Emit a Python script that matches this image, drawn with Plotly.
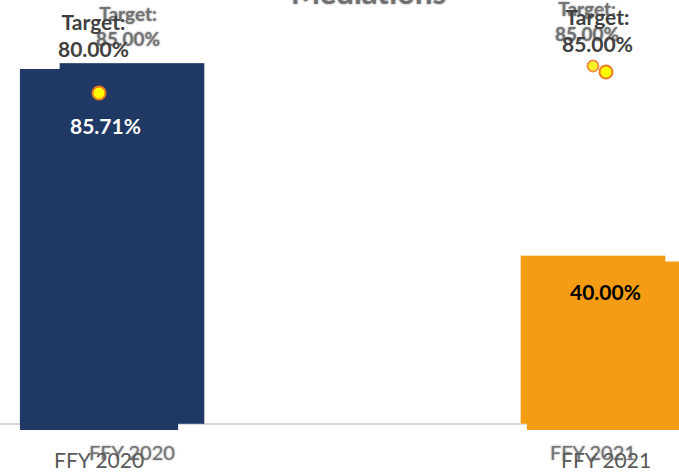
import plotly.graph_objects as go

# ---- data ---------------------------------------------------------------
categories = ["FFY 2020", "FFY 2021"]

# front chart: current rates and targets
rates = [85.71, 40.00]
targets = [80.00, 85.00]

# back chart: earlier edition of the same panel
rates_back = [85.71, 40.00]
targets_back = [85.00, 85.00]

bar_colors = ["#1F3864", "#F39C14"]
title_text = "Mediations"

FONT = "Lato"
BACK_GREY = "rgba(105,105,105,0.85)"
BACK_SHADOW = "0px 0px 2px rgba(105,105,105,0.9)"

fig = go.Figure()

# ---- back chart (base axes x / y) ---------------------------------------
fig.add_trace(go.Bar(
    x=categories, y=rates_back, width=0.3145,
    marker=dict(color=bar_colors, line=dict(color="rgba(255,255,255,0.35)", width=1)),
    xaxis="x", yaxis="y", hoverinfo="skip", showlegend=False,
))
# only the FFY 2021 target marker of the back chart is shown
fig.add_trace(go.Scatter(
    x=categories, y=targets_back, mode="markers",
    marker=dict(size=11, color="#FFF200", opacity=[0, 0.85],
                line=dict(color="#F07C2A", width=2)),
    xaxis="x", yaxis="y", hoverinfo="skip", showlegend=False,
))

# ---- front chart (overlay axes x2 / y2) ---------------------------------
fig.add_trace(go.Bar(
    x=categories, y=rates, width=0.312,
    marker=dict(color=bar_colors, line=dict(width=0)),
    xaxis="x2", yaxis="y2", hoverinfo="skip", showlegend=False,
))
fig.add_trace(go.Scatter(
    x=categories, y=targets, mode="markers",
    marker=dict(size=13, color="#FFFF00", line=dict(color="#EE7A1E", width=2)),
    xaxis="x2", yaxis="y2", hoverinfo="skip", showlegend=False,
))

annotations = []

# back chart title, mostly above the page edge
annotations.append(dict(
    text=f"<b>{title_text}</b>", xref="paper", yref="paper",
    x=368 / 679, y=1 + 8 / 475, xanchor="center", yanchor="middle",
    showarrow=False,
    font=dict(family=FONT, size=31, color=BACK_GREY, shadow=BACK_SHADOW),
))

# back chart target labels and category labels
back_target_pos = [(-4, 26), (-6, 21)]
for cat, t, (dx, yc) in zip(categories, targets_back, back_target_pos):
    annotations.append(dict(
        text=f"<b>Target:<br>{t:.2f}%</b>", xref="x", yref="paper",
        x=cat, xshift=dx, y=1 - yc / 475, xanchor="center", yanchor="middle",
        showarrow=False, align="center",
        font=dict(family=FONT, size=19, color=BACK_GREY, shadow=BACK_SHADOW),
    ))
for cat, yc in zip(categories, [452, 452]):
    annotations.append(dict(
        text=cat, xref="x", yref="paper", x=cat, y=1 - yc / 475,
        xanchor="center", yanchor="middle", showarrow=False,
        font=dict(family=FONT, size=20, color=BACK_GREY, shadow=BACK_SHADOW),
    ))

# front chart target labels
front_target_pos = [(-6, 35), (-8, 30)]
for cat, t, (dx, yc) in zip(categories, targets, front_target_pos):
    annotations.append(dict(
        text=f"<b>Target:<br>{t:.2f}%</b>", xref="x2", yref="paper",
        x=cat, xshift=dx, y=1 - yc / 475, xanchor="center", yanchor="middle",
        showarrow=False, align="center",
        font=dict(family=FONT, size=21, color="#404040"),
    ))

# front chart value labels inside the bars
value_label_style = [("#FFFFFF", 6, -57), ("#000000", 0, -30)]
for cat, v, (col, dx, dy) in zip(categories, rates, value_label_style):
    annotations.append(dict(
        text=f"<b>{v:.2f}%</b>", xref="x2", yref="y2", x=cat, y=v,
        xshift=dx, yshift=dy, xanchor="center", yanchor="middle",
        showarrow=False, font=dict(family=FONT, size=21, color=col),
    ))

# front chart category labels
for cat in categories:
    annotations.append(dict(
        text=cat, xref="x2", yref="paper", x=cat, y=1 - 459 / 475,
        xanchor="center", yanchor="middle", showarrow=False,
        font=dict(family=FONT, size=21, color="#595959"),
    ))

fig.update_layout(
    width=679, height=475,
    margin=dict(l=0, r=0, t=0, b=0),
    paper_bgcolor="white", plot_bgcolor="white",
    showlegend=False,
    font=dict(family=FONT),
    xaxis=dict(type="category", categoryorder="array", categoryarray=categories,
               range=[-0.2863, 1.1866], domain=[0, 1],
               showticklabels=False, showgrid=False, zeroline=False,
               showline=False, ticks=""),
    yaxis=dict(range=[-12.11, 100.66], domain=[0, 1],
               showticklabels=False, showgrid=False,
               zeroline=True, zerolinecolor="#D6D6D6", zerolinewidth=1.5,
               showline=False, ticks=""),
    xaxis2=dict(type="category", categoryorder="array", categoryarray=categories,
                overlaying="x", anchor="y2",
                range=[-0.1953, 1.1440],
                showticklabels=False, showgrid=False, zeroline=False,
                showline=False, ticks=""),
    yaxis2=dict(overlaying="y", anchor="x2", range=[-10.68, 102.09],
                showticklabels=False, showgrid=False, zeroline=False,
                showline=False, ticks=""),
    annotations=annotations,
)

fig.write_html("out.html")
